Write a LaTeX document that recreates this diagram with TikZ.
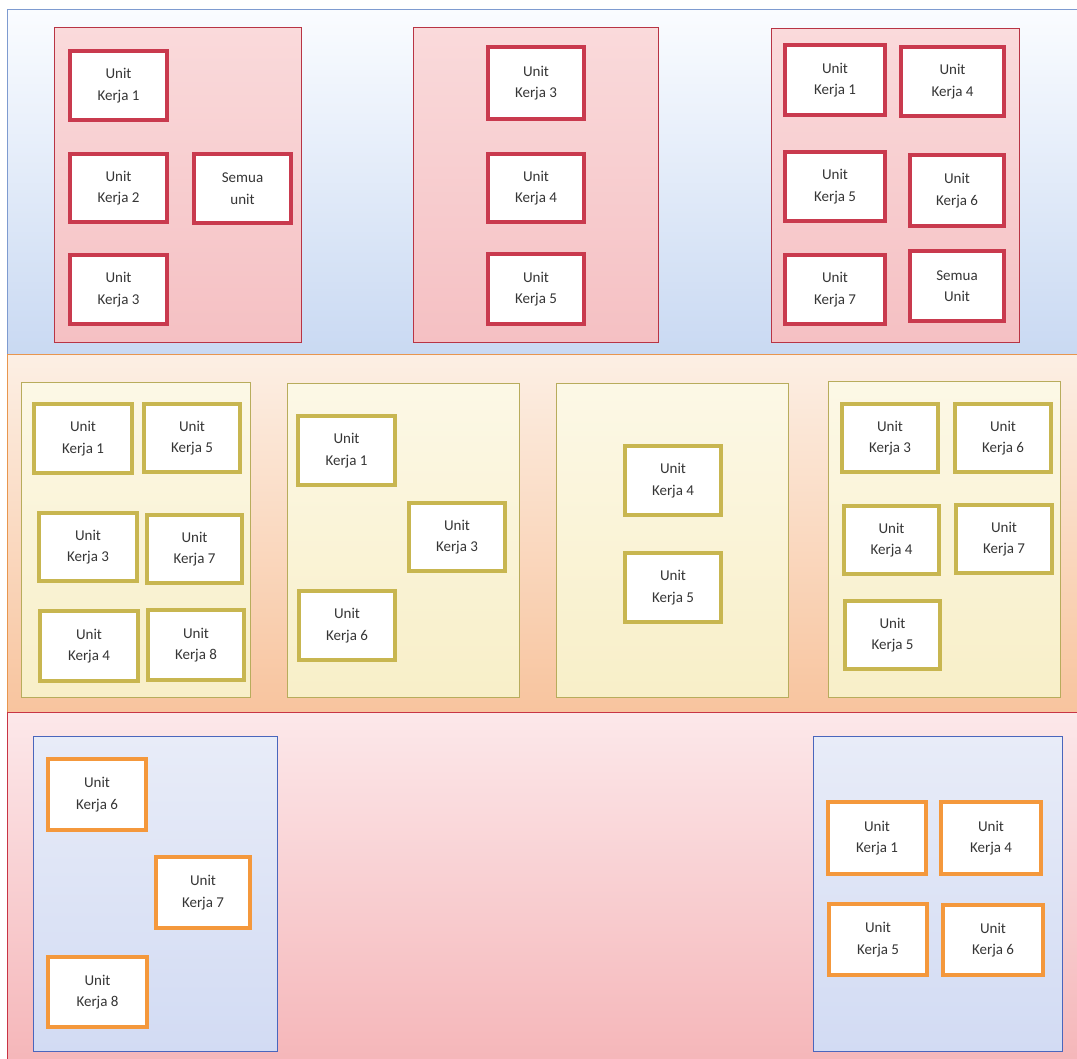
\documentclass[tikz,border=0pt]{standalone}
\usepackage{fontspec}
\setmainfont{Carlito}
\definecolor{txt}{HTML}{363636}
\definecolor{redb}{HTML}{C93A4E}
\definecolor{khb}{HTML}{C8B650}
\definecolor{orb}{HTML}{F4983C}
\definecolor{bandAline}{HTML}{7E9BD0}
\definecolor{bandBline}{HTML}{E8964E}
\definecolor{bandCline}{HTML}{C83444}
\definecolor{contRline}{HTML}{B83444}
\definecolor{contYline}{HTML}{B8AC5C}
\definecolor{contBline}{HTML}{4A66BC}
\definecolor{bAtop}{HTML}{FAFCFF}
\definecolor{bAbot}{HTML}{C9D9F2}
\definecolor{cRtop}{HTML}{FADADB}
\definecolor{cRbot}{HTML}{F5C0C3}
\definecolor{bBtop}{HTML}{FCEFE4}
\definecolor{bBbot}{HTML}{F8C49E}
\definecolor{cYtop}{HTML}{FCF8E6}
\definecolor{cYbot}{HTML}{F8EFC8}
\definecolor{bCtop}{HTML}{FCE8EA}
\definecolor{bCbot}{HTML}{F5B5B8}
\definecolor{cBtop}{HTML}{E8ECF8}
\definecolor{cBbot}{HTML}{D2DBF3}
\newcommand\ukbox[7]{\node[#2, minimum width={#5-#3-3.6}, minimum height={#6-#4-3.6}] (#1) at ({(#3+#5)/2},{(#4+#6)/2}) {#7};}
\newcommand\ctbox[6]{\node[#2, minimum width={#5-#3-1}, minimum height={#6-#4-1}] (#1) at ({(#3+#5)/2},{(#4+#6)/2}) {};}
\begin{document}
\begin{tikzpicture}[x=1pt,y=-1pt,
  ubox/.style={rectangle, fill=white, line width=3.6pt, align=center, text=txt,
    font=\fontsize{15}{21.5}\selectfont, inner sep=0pt},
  redbox/.style={ubox, draw=redb},
  khbox/.style={ubox, draw=khb},
  orbox/.style={ubox, draw=orb},
  cont/.style={rectangle, line width=1pt, inner sep=0pt},
  contR/.style={cont, draw=contRline, top color=cRtop, bottom color=cRbot},
  contY/.style={cont, draw=contYline, top color=cYtop, bottom color=cYbot},
  contB/.style={cont, draw=contBline, top color=cBtop, bottom color=cBbot},
  bandA/.style={draw=bandAline, line width=1pt, top color=bAtop, bottom color=bAbot},
  bandB/.style={draw=bandBline, line width=1pt, top color=bBtop, bottom color=bBbot},
  bandC/.style={draw=bandCline, line width=1pt, top color=bCtop, bottom color=bCbot},
]
\useasboundingbox (0,0) rectangle (1077,1059);
\fill[white] (0,0) rectangle (1077,1059);
\clip (0,0) rectangle (1077,1059);
% bands
\draw[bandA] (7,10) rectangle (1095,355);
\draw[bandB] (7,355) rectangle (1095,712);
\draw[bandC] (7,712) rectangle (1095,1070);
% band 1 containers
\ctbox{c1}{contR}{54}{27}{302}{343}
\ctbox{c2}{contR}{413}{27}{659}{343}
\ctbox{c3}{contR}{771}{28}{1020}{343}
% band 2 containers
\ctbox{c4}{contY}{21}{382}{251}{698}
\ctbox{c5}{contY}{287}{383}{520}{698}
\ctbox{c6}{contY}{556}{383}{789}{698}
\ctbox{c7}{contY}{828}{381}{1061}{698}
% band 3 containers
\ctbox{c8}{contB}{33}{736}{278}{1052}
\ctbox{c9}{contB}{813}{736}{1063}{1052}
% C1
\ukbox{a1}{redbox}{68}{49}{169}{122}{Unit\\Kerja 1}
\ukbox{a2}{redbox}{68}{152}{169}{224}{Unit\\Kerja 2}
\ukbox{a3}{redbox}{192}{152}{293}{225}{Semua\\unit}
\ukbox{a4}{redbox}{68}{253}{169}{326}{Unit\\Kerja 3}
% C2
\ukbox{b1}{redbox}{486}{45}{586}{121}{Unit\\Kerja 3}
\ukbox{b2}{redbox}{486}{152}{586}{224}{Unit\\Kerja 4}
\ukbox{b3}{redbox}{486}{252}{586}{326}{Unit\\Kerja 5}
% C3
\ukbox{d1}{redbox}{783}{43}{887}{117}{Unit\\Kerja 1}
\ukbox{d2}{redbox}{899}{45}{1006}{118}{Unit\\Kerja 4}
\ukbox{d3}{redbox}{783}{150}{887}{223}{Unit\\Kerja 5}
\ukbox{d4}{redbox}{908}{153}{1006}{228}{Unit\\Kerja 6}
\ukbox{d5}{redbox}{783}{253}{887}{326}{Unit\\Kerja 7}
\ukbox{d6}{redbox}{908}{249}{1006}{323}{Semua\\Unit}
% C4
\ukbox{e1}{khbox}{32}{402}{134}{475}{Unit\\Kerja 1}
\ukbox{e2}{khbox}{142}{402}{242}{474}{Unit\\Kerja 5}
\ukbox{e3}{khbox}{37}{511}{139}{583}{Unit\\Kerja 3}
\ukbox{e4}{khbox}{145}{513}{244}{585}{Unit\\Kerja 7}
\ukbox{e5}{khbox}{38}{609}{140}{683}{Unit\\Kerja 4}
\ukbox{e6}{khbox}{146}{608}{246}{682}{Unit\\Kerja 8}
% C5
\ukbox{f1}{khbox}{296}{414}{397}{487}{Unit\\Kerja 1}
\ukbox{f2}{khbox}{407}{501}{507}{573}{Unit\\Kerja 3}
\ukbox{f3}{khbox}{297}{589}{397}{662}{Unit\\Kerja 6}
% C6
\ukbox{g1}{khbox}{623}{444}{723}{517}{Unit\\Kerja 4}
\ukbox{g2}{khbox}{623}{551}{723}{624}{Unit\\Kerja 5}
% C7
\ukbox{h1}{khbox}{840}{402}{940}{474}{Unit\\Kerja 3}
\ukbox{h2}{khbox}{953}{402}{1053}{474}{Unit\\Kerja 6}
\ukbox{h3}{khbox}{842}{504}{941}{576}{Unit\\Kerja 4}
\ukbox{h4}{khbox}{954}{503}{1054}{575}{Unit\\Kerja 7}
\ukbox{h5}{khbox}{843}{599}{942}{671}{Unit\\Kerja 5}
% C8
\ukbox{i1}{orbox}{46}{757}{148}{832}{Unit\\Kerja 6}
\ukbox{i2}{orbox}{154}{855}{252}{930}{Unit\\Kerja 7}
\ukbox{i3}{orbox}{46}{955}{149}{1029}{Unit\\Kerja 8}
% C9
\ukbox{j1}{orbox}{826}{800}{928}{876}{Unit\\Kerja 1}
\ukbox{j2}{orbox}{939}{800}{1043}{876}{Unit\\Kerja 4}
\ukbox{j3}{orbox}{827}{902}{929}{977}{Unit\\Kerja 5}
\ukbox{j4}{orbox}{941}{903}{1045}{977}{Unit\\Kerja 6}
\end{tikzpicture}
\end{document}
